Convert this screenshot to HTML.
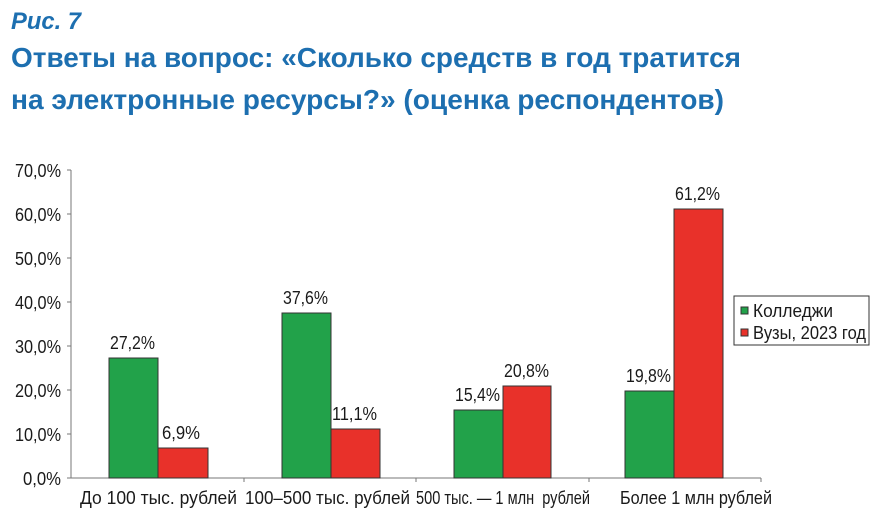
<!DOCTYPE html>
<html><head><meta charset="utf-8"><style>
body{margin:0;background:#fff;width:886px;height:516px;overflow:hidden}
svg{display:block}
.t{font-family:"Liberation Sans Narrow","Liberation Sans",sans-serif;font-size:18px;fill:#1a1a1a}
</style></head><body>
<svg width="886" height="516" viewBox="0 0 886 516">
<text x="11" y="29" font-family="Liberation Sans,sans-serif" font-size="24" font-weight="bold" font-style="italic" fill="#1d6fb0" textLength="70" lengthAdjust="spacingAndGlyphs">Рис. 7</text>
<text x="11" y="67" font-family="Liberation Sans,sans-serif" font-size="28" font-weight="bold" fill="#1d6fb0" textLength="730" lengthAdjust="spacingAndGlyphs">Ответы на вопрос: «Сколько средств в год тратится</text>
<text x="11" y="109" font-family="Liberation Sans,sans-serif" font-size="28" font-weight="bold" fill="#1d6fb0" textLength="713" lengthAdjust="spacingAndGlyphs">на электронные ресурсы?» (оценка респондентов)</text>
<g stroke="#777" stroke-width="1">
<line x1="71" y1="170" x2="71" y2="478"/>
<line x1="71" y1="478" x2="761" y2="478"/>
<line x1="67" y1="170" x2="71" y2="170"/><line x1="67" y1="214" x2="71" y2="214"/><line x1="67" y1="258" x2="71" y2="258"/><line x1="67" y1="302" x2="71" y2="302"/><line x1="67" y1="346" x2="71" y2="346"/><line x1="67" y1="390" x2="71" y2="390"/><line x1="67" y1="434" x2="71" y2="434"/><line x1="67" y1="478" x2="71" y2="478"/>
<line x1="244" y1="478" x2="244" y2="482"/><line x1="416" y1="478" x2="416" y2="482"/><line x1="589" y1="478" x2="589" y2="482"/><line x1="761" y1="478" x2="761" y2="482"/>
</g>
<g class="t">
<text x="15" y="177" textLength="46" lengthAdjust="spacingAndGlyphs">70,0%</text>
<text x="15" y="221" textLength="46" lengthAdjust="spacingAndGlyphs">60,0%</text>
<text x="15" y="265" textLength="46" lengthAdjust="spacingAndGlyphs">50,0%</text>
<text x="15" y="309" textLength="46" lengthAdjust="spacingAndGlyphs">40,0%</text>
<text x="15" y="353" textLength="46" lengthAdjust="spacingAndGlyphs">30,0%</text>
<text x="15" y="397" textLength="46" lengthAdjust="spacingAndGlyphs">20,0%</text>
<text x="15" y="441" textLength="46" lengthAdjust="spacingAndGlyphs">10,0%</text>
<text x="23" y="485" textLength="38" lengthAdjust="spacingAndGlyphs">0,0%</text>
</g>
<g stroke="#333" stroke-width="1">
<rect x="109" y="358" width="49" height="120" fill="#22a24a"/>
<rect x="158" y="448" width="50" height="30" fill="#e8312a"/>
<rect x="282" y="313" width="49" height="165" fill="#22a24a"/>
<rect x="331" y="429" width="49" height="49" fill="#e8312a"/>
<rect x="454" y="410" width="49" height="68" fill="#22a24a"/>
<rect x="503" y="386" width="48" height="92" fill="#e8312a"/>
<rect x="625" y="391" width="49" height="87" fill="#22a24a"/>
<rect x="674" y="209" width="49" height="269" fill="#e8312a"/>
</g>
<g class="t">
<text x="110" y="349" textLength="45" lengthAdjust="spacingAndGlyphs">27,2%</text>
<text x="162" y="439" textLength="38" lengthAdjust="spacingAndGlyphs">6,9%</text>
<text x="283" y="304" textLength="45" lengthAdjust="spacingAndGlyphs">37,6%</text>
<text x="332" y="420" textLength="45" lengthAdjust="spacingAndGlyphs">11,1%</text>
<text x="455" y="401" textLength="45" lengthAdjust="spacingAndGlyphs">15,4%</text>
<text x="504" y="377" textLength="45" lengthAdjust="spacingAndGlyphs">20,8%</text>
<text x="626" y="382" textLength="45" lengthAdjust="spacingAndGlyphs">19,8%</text>
<text x="675" y="200" textLength="45" lengthAdjust="spacingAndGlyphs">61,2%</text>
<text x="80" y="504" textLength="157" lengthAdjust="spacingAndGlyphs">До 100 тыс. рублей</text>
<text x="245" y="504" textLength="165" lengthAdjust="spacingAndGlyphs">100–500 тыс. рублей</text>
<text x="416" y="504" textLength="174" lengthAdjust="spacingAndGlyphs" style="white-space:pre">500 тыс. — 1 млн  рублей</text>
<text x="620" y="504" textLength="152" lengthAdjust="spacingAndGlyphs">Более 1 млн рублей</text>
</g>
<rect x="734" y="296" width="135" height="49" fill="#fff" stroke="#333"/>
<rect x="741" y="307" width="7" height="7" fill="#22a24a" stroke="#333"/>
<rect x="741" y="329" width="7" height="7" fill="#e8312a" stroke="#333"/>
<text class="t" x="753" y="317" textLength="80" lengthAdjust="spacingAndGlyphs">Колледжи</text>
<text class="t" x="753" y="339" textLength="113" lengthAdjust="spacingAndGlyphs">Вузы, 2023 год</text>
</svg>
</body></html>
